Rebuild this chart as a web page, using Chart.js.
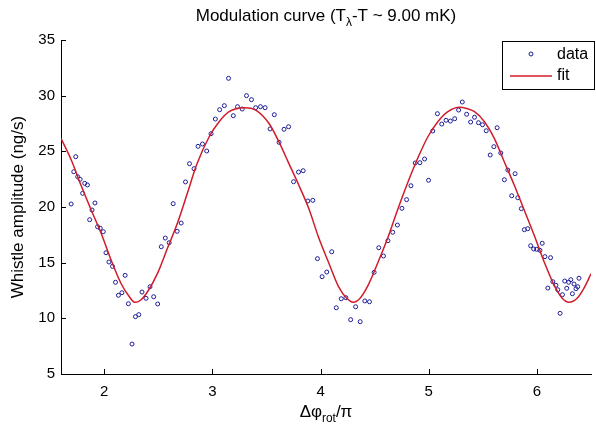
<!DOCTYPE html>
<html>
<head>
<meta charset="utf-8">
<script src="https://cdn.jsdelivr.net/npm/chart.js@4.4.1/dist/chart.umd.min.js"></script>
<style>
  html, body { margin: 0; padding: 0; background: #fff; }
</style>
</head>
<body>
<canvas id="chart" width="596" height="427"></canvas>
<script>
// Messpunkte
const dataX = [1.694,1.718,1.736,1.754,1.777,1.800,1.819,1.844,1.865,1.887,
  1.914,1.938,1.963,1.991,2.016,2.043,2.076,2.104,2.131,2.163,
  2.193,2.223,2.257,2.288,2.319,2.349,2.386,2.423,2.457,2.494,
  2.527,2.564,2.600,2.637,2.674,2.711,2.751,2.788,2.830,2.867,
  2.908,2.947,2.987,3.027,3.067,3.110,3.149,3.193,3.232,3.275,
  3.315,3.361,3.400,3.444,3.487,3.533,3.572,3.616,3.662,3.704,
  3.750,3.796,3.839,3.882,3.928,3.971,4.014,4.057,4.103,4.145,
  4.191,4.234,4.278,4.324,4.366,4.409,4.452,4.495,4.538,4.581,
  4.623,4.667,4.710,4.752,4.795,4.835,4.875,4.918,4.961,4.998,
  5.037,5.080,5.120,5.160,5.200,5.240,5.276,5.310,5.350,5.387,
  5.423,5.460,5.497,5.531,5.568,5.602,5.632,5.666,5.699,5.731,
  5.767,5.798,5.823,5.856,5.884,5.915,5.942,5.970,5.997,6.028,
  6.049,6.074,6.101,6.126,6.147,6.175,6.193,6.214,6.236,6.257,
  6.276,6.294,6.313,6.328,6.343,6.361,6.377,6.389];
const dataY = [20.27,23.17,24.52,22.72,22.49,21.23,22.13,21.98,18.86,19.73,
  20.36,18.23,18.09,17.78,15.89,15.06,14.67,13.24,12.07,12.30,
  13.86,11.31,7.69,10.15,10.33,12.36,11.80,12.84,11.94,11.29,
  16.43,17.21,16.79,20.30,17.82,18.56,22.25,23.89,23.44,25.45,
  25.66,25.03,26.58,27.90,28.74,29.10,31.56,28.20,29.01,28.80,
  30.00,29.64,28.92,29.01,28.92,27.01,28.29,25.81,26.98,27.21,
  22.27,23.14,23.26,20.54,20.60,15.36,13.74,14.16,15.98,10.95,
  11.76,11.85,9.88,11.04,9.70,11.56,11.49,14.13,16.34,15.60,
  16.97,17.73,18.38,19.88,20.66,21.91,23.95,23.98,24.31,22.40,
  26.83,28.38,27.45,27.79,27.72,27.93,28.71,29.43,28.33,27.63,
  28.06,27.57,27.39,26.85,24.67,25.42,27.12,24.85,22.45,23.32,
  21.01,22.99,20.83,19.85,17.96,18.05,16.52,16.23,16.20,16.11,
  16.74,15.54,12.72,15.45,13.29,12.97,12.57,10.45,12.12,13.35,
  12.70,13.24,13.47,12.21,13.08,12.66,12.84,13.60];

// Fitkurve
const fitX = [1.6,1.695,1.787,1.879,1.971,2.063,2.154,2.232,2.283,2.338,
  2.400,2.492,2.584,2.676,2.768,2.853,2.970,3.062,3.154,3.292,
  3.400,3.522,3.614,3.706,3.798,3.890,3.982,4.074,4.166,4.242,
  4.303,4.365,4.441,4.533,4.625,4.717,4.809,4.901,4.992,5.084,
  5.177,5.285,5.350,5.423,5.515,5.606,5.698,5.790,5.882,5.974,
  6.066,6.158,6.234,6.296,6.372,6.434,6.5];
const fitY = [26.17,24.22,21.9,19.73,17.64,15.24,13.15,11.94,11.44,11.65,
  12.39,14.04,16.29,18.54,21.23,23.77,26.31,27.66,28.56,28.92,
  28.71,27.52,25.87,23.92,21.98,19.88,17.26,15.02,12.85,11.80,
  11.44,11.80,13.00,15.09,17.33,19.88,22.27,24.44,26.31,27.66,
  28.56,28.96,28.85,28.56,27.66,26.17,24.07,21.98,19.73,17.48,
  15.09,13.00,11.80,11.44,11.80,12.69,14.0];

const xTicks = [2, 3, 4, 5, 6];
const yTicks = [5, 10, 15, 20, 25, 30, 35];

const FONT = '"Liberation Sans", Arial, Helvetica, sans-serif';
const DOT = '#1c1c99';
const RED = '#d01c2a';

// Text mit Tiefstellung zeichnen
function drawParts(ctx, parts, cx, baseline, size) {
  let total = 0;
  parts.forEach(p => {
    ctx.font = (p.sub ? size * 0.7 : size) + 'px ' + FONT;
    p.w = ctx.measureText(p.t).width;
    total += p.w;
  });
  let xx = cx - total / 2;
  parts.forEach(p => {
    ctx.font = (p.sub ? size * 0.7 : size) + 'px ' + FONT;
    ctx.fillText(p.t, xx, baseline + (p.sub ? size * 0.3 : 0));
    xx += p.w;
  });
}

const extras = {
  id: 'extras',
  afterDatasetsDraw(chart) {
    const {ctx, chartArea: a, scales: {x, y}} = chart;
    ctx.save();
    // Ticks nach innen
    ctx.strokeStyle = '#000';
    ctx.lineWidth = 1;
    ctx.beginPath();
    xTicks.forEach(v => {
      const px = Math.round(x.getPixelForValue(v)) + 0.5;
      ctx.moveTo(px, a.bottom);
      ctx.lineTo(px, a.bottom - 5);
    });
    yTicks.forEach(v => {
      const py = Math.round(y.getPixelForValue(v)) + 0.5;
      ctx.moveTo(a.left, py);
      ctx.lineTo(a.left + 5, py);
    });
    ctx.stroke();

    // Titel und x-Achsenbeschriftung
    ctx.fillStyle = '#000';
    ctx.textBaseline = 'alphabetic';
    ctx.textAlign = 'left';
    const cx = (a.left + a.right) / 2;
    drawParts(ctx, [{t: 'Modulation curve (T'}, {t: 'λ', sub: true}, {t: '-T ~ 9.00 mK)'}], cx, 21, 17);
    drawParts(ctx, [{t: 'Δφ'}, {t: 'rot', sub: true}, {t: '/π'}], cx, 417, 17);

    // Legende
    ctx.fillStyle = '#fff';
    ctx.fillRect(502.5, 41.5, 92, 48);
    ctx.strokeStyle = '#000';
    ctx.strokeRect(502.5, 41.5, 92, 48);
    ctx.strokeStyle = DOT;
    ctx.beginPath();
    ctx.arc(531, 54, 2, 0, Math.PI * 2);
    ctx.stroke();
    ctx.strokeStyle = RED;
    ctx.lineWidth = 1.5;
    ctx.beginPath();
    ctx.moveTo(510, 76);
    ctx.lineTo(552, 76);
    ctx.stroke();
    ctx.fillStyle = '#000';
    ctx.font = '16px ' + FONT;
    ctx.textBaseline = 'middle';
    ctx.fillText('data', 557, 55);
    ctx.fillText('fit', 557, 76);
    ctx.restore();
  }
};

new Chart(document.getElementById('chart'), {
  type: 'scatter',
  data: {
    datasets: [{
      label: 'data',
      data: dataX.map((v, i) => ({x: v, y: dataY[i]})),
      showLine: false,
      pointStyle: 'circle',
      pointRadius: 2,
      pointBorderWidth: 1,
      pointBorderColor: DOT,
      pointBackgroundColor: 'rgba(0,0,0,0)',
      order: 1
    }, {
      type: 'line',
      label: 'fit',
      data: fitX.map((v, i) => ({x: v, y: fitY[i]})),
      borderColor: RED,
      borderWidth: 1.5,
      pointRadius: 0,
      cubicInterpolationMode: 'monotone',
      fill: false,
      order: 0
    }]
  },
  options: {
    responsive: false,
    animation: false,
    devicePixelRatio: 1,
    layout: { padding: { top: 40, right: 2, left: 0, bottom: 0 } },
    plugins: {
      legend: { display: false },
      tooltip: { enabled: false },
      title: { display: false }
    },
    scales: {
      x: {
        type: 'linear',
        min: 1.6,
        max: 6.5,
        afterFit: s => { s.height = 53; },
        afterBuildTicks: s => { s.ticks = xTicks.map(v => ({value: v})); },
        grid: { drawOnChartArea: false, drawTicks: false },
        border: { display: true, color: '#000', width: 1 },
        ticks: { color: '#000', padding: 9, font: { size: 15, family: FONT } }
      },
      y: {
        min: 5,
        max: 35,
        afterFit: s => { s.width = 61; },
        afterBuildTicks: s => { s.ticks = yTicks.map(v => ({value: v})); },
        grid: { drawOnChartArea: false, drawTicks: false },
        border: { display: true, color: '#000', width: 1 },
        ticks: { color: '#000', padding: 6, font: { size: 15, family: FONT } },
        title: {
          display: true,
          text: 'Whistle amplitude (ng/s)',
          color: '#000',
          padding: { top: 8, bottom: 0 },
          font: { size: 17, family: FONT }
        }
      }
    }
  },
  plugins: [extras]
});
</script>
</body>
</html>
